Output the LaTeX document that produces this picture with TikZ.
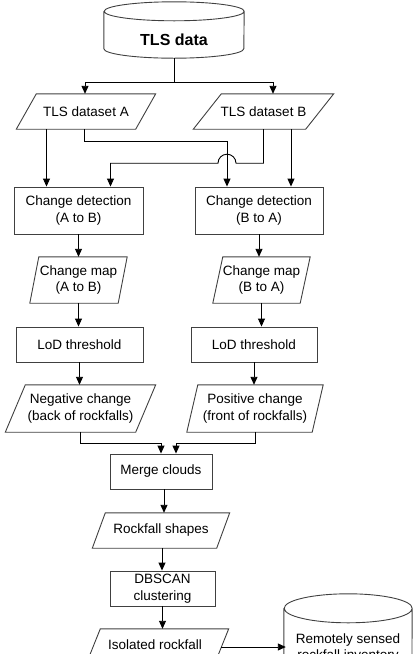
\documentclass[tikz,border=0pt]{standalone}
\usepackage{fontspec}
\setmainfont{Liberation Sans}
\usetikzlibrary{arrows.meta}

\begin{document}
\begin{tikzpicture}[x=1pt, y=-1pt, font=\fontsize{13.5}{16.5}\selectfont,
  arr/.style={-{Triangle[length=8pt,width=7pt]}, line width=0.9pt},
  pline/.style={draw=black!75, line width=0.9pt},
  proc/.style={pline, align=center, inner sep=2pt},
  pbox/.style={align=center, inner sep=2pt}]
  \useasboundingbox (0,0) rectangle (414,654);
  \clip (0,0) rectangle (414,654);
  % stores
  \node[pbox, minimum width=140pt, minimum height=56pt] (data) at (174,30) {\smash{\raisebox{-15pt}{\fontsize{16}{19}\selectfont\bfseries TLS data}}};
  \node[pbox, minimum width=128pt, minimum height=108pt] (inv) at (348,648) {Remotely sensed\\rockfall inventory};
  % datasets
  \node[pbox, minimum width=119pt, minimum height=35pt] (dsA) at (86,111.5) {TLS dataset A};
  \node[pbox, minimum width=112pt, minimum height=35pt] (dsB) at (263.5,111.5) {TLS dataset B};
  % change detection
  \node[proc, minimum width=129pt, minimum height=47pt] (cdA) at (78.5,210.5) {Change detection\\(A to B)};
  \node[proc, minimum width=128pt, minimum height=47pt] (cdB) at (259,210.5) {Change detection\\(B to A)};
  \node[pbox, minimum width=88pt, minimum height=46pt] (cmA) at (78.5,280) {Change map\\(A to B)};
  \node[pbox, minimum width=87pt, minimum height=46pt] (cmB) at (261.5,280) {Change map\\(B to A)};
  \node[proc, minimum width=127pt, minimum height=35pt] (lodA) at (79.5,344.5) {LoD threshold};
  \node[proc, minimum width=126pt, minimum height=35pt] (lodB) at (254,344.5) {LoD threshold};
  \node[pbox, minimum width=130pt, minimum height=47pt] (neg) at (80.5,408.5) {Negative change\\(back of rockfalls)};
  \node[pbox, minimum width=125pt, minimum height=47pt] (pos) at (255,408.5) {Positive change\\(front of rockfalls)};
  % merging and clustering
  \node[proc, minimum width=102pt, minimum height=35pt] (merge) at (161,471.5) {Merge clouds};
  \node[pbox, minimum width=124pt, minimum height=35pt] (shapes) at (161,530.5) {Rockfall shapes};
  \node[proc, minimum width=105pt, minimum height=35pt] (dbscan) at (162.5,588.5) {DBSCAN\\clustering};
  \node[pbox, minimum width=128pt, minimum height=47pt] (iso) at (155,652.5) {Isolated rockfall\\events};
  % cylinder outlines
  \foreach \n/\r/\w in {data/9.5/70, inv/14.5/64}
    \draw[pline] ([yshift=-\r]\n.north west) -- ([yshift=\r]\n.south west)
      arc[start angle=180, end angle=360, x radius=\w pt, y radius=\r pt]
      -- ([yshift=-\r]\n.north east)
      arc[start angle=0, end angle=180, x radius=\w pt, y radius=\r pt]
      arc[start angle=180, end angle=360, x radius=\w pt, y radius=\r pt];
  % parallelogram outlines
  \foreach \n/\s in {dsA/10, dsB/14, cmA/4.5, cmB/5, neg/10, pos/5.5, shapes/6.5, iso/9.5}
    \draw[pline] ([xshift=\s]\n.north west) -- ([xshift=\s]\n.north east)
      -- ([xshift=-\s]\n.south east) -- ([xshift=-\s]\n.south west) -- cycle;
  % arrows
  \draw[line width=0.9pt] (data.south) -- ++(0,24) coordinate (split);
  \draw[arr] (split) -| ([xshift=-1pt]dsA.north);
  \draw[arr] (split) -| ([xshift=9.5pt]dsB.north);
  \draw[arr] ([xshift=-32pt]cdA.north |- dsA.south) -- ([xshift=-32pt]cdA.north);
  \draw[arr] ([xshift=-2pt]dsA.south) -- ++(0,12) -| ([xshift=-32pt]cdB.north);
  \path (dsB.south) ++(0,34) coordinate (bendB);
  \coordinate (jmp) at ([xshift=-32pt]cdB.north |- bendB);
  \draw[arr] (dsB.south) -- (bendB) -- ([xshift=9pt]jmp) arc[start angle=0, end angle=180, radius=9pt] -| ([xshift=32pt]cdA.north);
  \draw[arr] ([xshift=32pt]cdB.north |- dsB.south) -- ([xshift=32pt]cdB.north);
  \draw[arr] (cdA.south) -- (cdA.south |- cmA.north);
  \draw[arr] (cdB.south) -- (cdB.south |- cmB.north);
  \draw[arr] (cmA.south) -- (cmA.south |- lodA.north);
  \draw[arr] (cmB.south) -- (cmB.south |- lodB.north);
  \draw[arr] (lodA.south) -- (lodA.south |- neg.north);
  \draw[arr] (lodB.south) -- (lodB.south |- pos.north);
  \draw[arr] (neg.south) -- ++(0,11) -| (merge.north);
  \draw[arr] (pos.south) -- ++(0,11) -| ([xshift=15pt]merge.north);
  \draw[arr] ([xshift=3pt]merge.south) -- ([xshift=3pt]merge.south |- shapes.north);
  \draw[arr] ([xshift=1pt]shapes.south) -- ([xshift=1pt]shapes.south |- dbscan.north);
  \draw[arr] (dbscan.south) -- (dbscan.south |- iso.north);
  \draw[arr] ([xshift=2pt,yshift=5.5pt]iso.east) -- ([xshift=2pt,yshift=5.5pt]iso.east -| inv.west);
\end{tikzpicture}
\end{document}
